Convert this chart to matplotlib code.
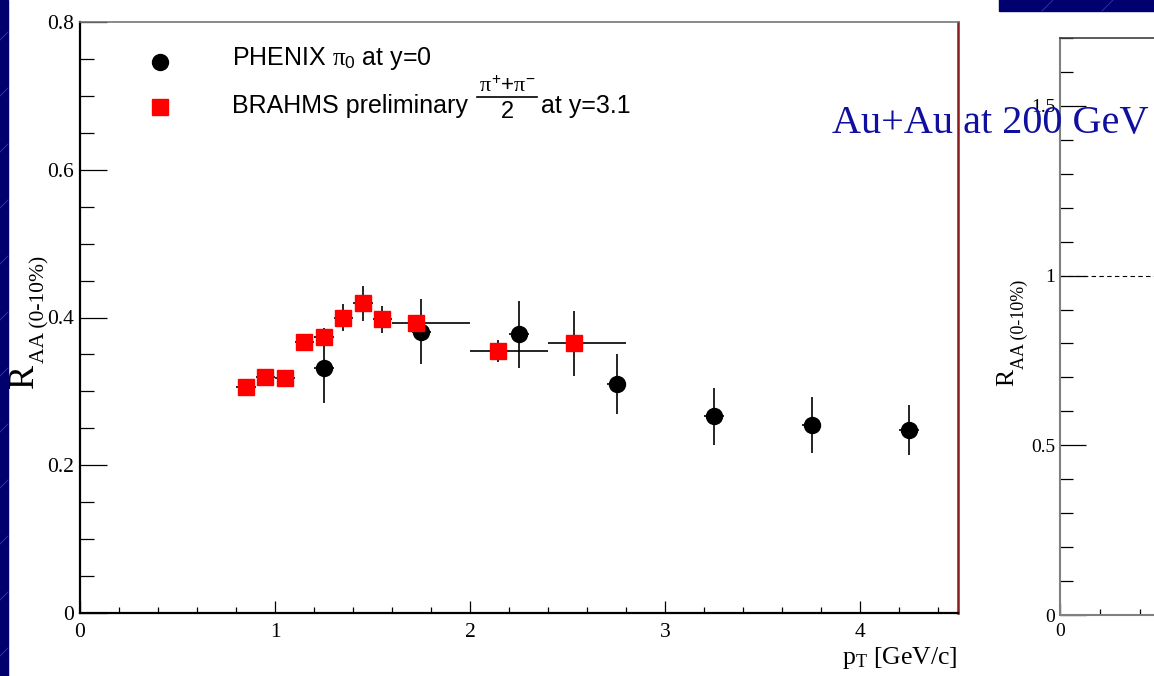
import matplotlib
matplotlib.use('Agg')
import matplotlib.pyplot as plt
from matplotlib.ticker import MultipleLocator, FuncFormatter
from matplotlib.patches import Rectangle
from matplotlib.lines import Line2D

plt.rcParams['font.family'] = ['Liberation Serif', 'DejaVu Serif']
plt.rcParams['mathtext.fontset'] = 'custom'
plt.rcParams['mathtext.rm'] = 'Liberation Sans'
plt.rcParams['mathtext.it'] = 'Liberation Serif'
plt.rcParams['mathtext.sf'] = 'Liberation Serif'
plt.rcParams['mathtext.bf'] = 'Liberation Sans:bold'

# ---------------- data ----------------
phenix_pt = [1.25, 1.75, 2.25, 2.75, 3.25, 3.75, 4.25]
phenix_raa = [0.331, 0.381, 0.377, 0.310, 0.266, 0.255, 0.248]
phenix_err = [0.047, 0.044, 0.045, 0.040, 0.038, 0.038, 0.034]
phenix_xerr = [0.05, 0.05, 0.05, 0.05, 0.05, 0.05, 0.05]

brahms_pt = [0.85, 0.95, 1.05, 1.15, 1.25, 1.35, 1.45, 1.55, 1.72, 2.14, 2.53]
brahms_raa = [0.306, 0.320, 0.3185, 0.367, 0.374, 0.400, 0.419, 0.3975, 0.392, 0.355, 0.365]
brahms_err = [0.008, 0.008, 0.008, 0.010, 0.012, 0.018, 0.024, 0.018, 0.012, 0.015, 0.044]
brahms_xerr_lo = [0.05, 0.05, 0.05, 0.05, 0.05, 0.05, 0.05, 0.05, 0.12, 0.14, 0.13]
brahms_xerr_hi = [0.05, 0.05, 0.05, 0.05, 0.05, 0.05, 0.05, 0.05, 0.28, 0.26, 0.27]

main_yticks = [0, 0.2, 0.4, 0.6, 0.8]
main_xticks = [0, 1, 2, 3, 4]
side_yticks = [0, 0.5, 1, 1.5]
side_xticks = [0]

W, H = 1154, 676
fig = plt.figure(figsize=(W / 100, H / 100), dpi=100, facecolor='white')


def fx(px):
    return px / W


def fy(py):
    return 1 - py / H


navy = '#00006E'
fig.patches.append(Rectangle((0, 0), fx(8), 1, transform=fig.transFigure,
                             color=navy, zorder=0))
fig.patches.append(Rectangle((fx(999), fy(11)), 1, 1, transform=fig.transFigure,
                             color=navy, zorder=0))
# faint template streaks
for y0 in range(40, 676, 56):
    fig.add_artist(Line2D([fx(0), fx(8)], [fy(y0), fy(y0 - 8)], color='#3030A8',
                          lw=0.7, transform=fig.transFigure))
for x0 in (1050, 1110):
    fig.add_artist(Line2D([fx(x0 - 8), fx(x0 + 3)], [fy(11), fy(0)], color='#3030A8',
                          lw=0.7, transform=fig.transFigure))

# ---------------- main panel ----------------
ax = fig.add_axes([fx(80), fy(613), fx(958) - fx(80), fy(22) - fy(613)])
ax.set_xlim(0, 4.5)
ax.set_ylim(0, 0.8)

ax.errorbar(phenix_pt, phenix_raa, xerr=phenix_xerr, yerr=phenix_err, fmt='o',
            color='black', ms=11.5, ecolor='black', elinewidth=1.2, capsize=0, zorder=3)
ax.errorbar(brahms_pt, brahms_raa, xerr=[brahms_xerr_lo, brahms_xerr_hi], yerr=brahms_err,
            fmt='s', mfc='red', mec='red', ms=11.5, ecolor='black', elinewidth=1.2,
            capsize=0, zorder=4)

for s in ('left', 'bottom'):
    ax.spines[s].set_color('black')
    ax.spines[s].set_linewidth(1.6)
ax.spines['top'].set_color('#777777')
ax.spines['top'].set_linewidth(1.2)
ax.spines['right'].set_color('#8B1A1A')
ax.spines['right'].set_linewidth(1.8)

ax.xaxis.set_major_locator(plt.FixedLocator(main_xticks))
ax.xaxis.set_minor_locator(MultipleLocator(0.2))
ax.yaxis.set_major_locator(plt.FixedLocator(main_yticks))
ax.yaxis.set_minor_locator(MultipleLocator(0.05))
fmt = FuncFormatter(lambda v, p: f'{v:g}')
ax.xaxis.set_major_formatter(fmt)
ax.yaxis.set_major_formatter(fmt)
ax.tick_params(axis='both', which='both', direction='in', top=False, right=False,
               width=0.9, colors='black', labelsize=15.5)
ax.tick_params(axis='y', which='major', length=19.5, pad=4.3)
ax.tick_params(axis='y', which='minor', length=10)
ax.tick_params(axis='x', which='major', length=8.6, pad=7)
ax.tick_params(axis='x', which='minor', length=4.3)

# axis titles
fig.text(fx(33), fy(388), 'R', rotation=90, rotation_mode='anchor', ha='left',
         va='baseline', fontsize=26)
fig.text(fx(44), fy(363), 'AA (0-10%)', rotation=90, rotation_mode='anchor', ha='left',
         va='baseline', fontsize=15.5)
fig.text(fx(958), fy(664), r'p$_\mathsf{T}$ [GeV/c]', ha='right', va='baseline', fontsize=18.5)

# legend
fig.add_artist(Line2D([fx(160)], [fy(62)], marker='o', ms=11.5, color='black', lw=0,
                      transform=fig.transFigure))
fig.add_artist(Line2D([fx(160)], [fy(107)], marker='s', ms=11.5, color='red', lw=0,
                      transform=fig.transFigure))
fig.text(fx(232), fy(65), r'PHENIX $\pi_0$ at y=0', family='Liberation Sans',
         fontsize=18, va='baseline')
fig.text(fx(232), fy(113), 'BRAHMS preliminary', family='Liberation Sans',
         fontsize=18, va='baseline')
fig.text(fx(507), fy(92), r'$\pi^{+}$+$\pi^{-}$', family='Liberation Sans',
         fontsize=16, ha='center', va='baseline')
fig.add_artist(Line2D([fx(477), fx(537)], [fy(97), fy(97)], color='black', lw=1.2,
                      transform=fig.transFigure))
fig.text(fx(507), fy(118), '2', family='Liberation Sans', fontsize=17,
         ha='center', va='baseline')
fig.text(fx(541), fy(113), 'at y=3.1', family='Liberation Sans',
         fontsize=18, va='baseline')

# ---------------- second (cut) panel ----------------
ax2 = fig.add_axes([fx(1060), fy(615), 900 / W, fy(38) - fy(615)])
ax2.set_xlim(0, 4.5)
ax2.set_ylim(0, 1.7)
ax2.axhline(1, ls=(0, (4, 3)), color='black', lw=0.8)
ax2.spines['left'].set_color('#808080')
ax2.spines['left'].set_linewidth(1.5)
ax2.spines['bottom'].set_color('#808080')
ax2.spines['bottom'].set_linewidth(1.5)
ax2.spines['top'].set_color('#404040')
ax2.spines['top'].set_linewidth(1.2)
ax2.spines['right'].set_visible(False)
ax2.xaxis.set_major_locator(plt.FixedLocator(side_xticks))
ax2.xaxis.set_minor_locator(MultipleLocator(0.2))
ax2.yaxis.set_major_locator(plt.FixedLocator(side_yticks))
ax2.yaxis.set_minor_locator(MultipleLocator(0.1))
ax2.xaxis.set_major_formatter(fmt)
ax2.yaxis.set_major_formatter(fmt)
ax2.tick_params(axis='both', which='both', direction='in', top=False, right=False,
                width=0.9, colors='black', labelsize=14)
ax2.tick_params(axis='y', which='major', length=18.7, pad=3.6)
ax2.tick_params(axis='y', which='minor', length=9.4)
ax2.tick_params(axis='x', which='major', length=8.6, pad=6)
ax2.tick_params(axis='x', which='minor', length=4.3)

fig.text(fx(1013), fy(386), 'R', rotation=90, rotation_mode='anchor', ha='left',
         va='baseline', fontsize=18.5)
fig.text(fx(1024), fy(369), 'AA (0-10%)', rotation=90, rotation_mode='anchor', ha='left',
         va='baseline', fontsize=13)

fig.text(fx(832), fy(133), 'Au+Au at 200 GeV', fontsize=29, color='#1010A0',
         va='baseline', zorder=10)

fig.savefig('out.png', dpi=100, facecolor=fig.get_facecolor())
